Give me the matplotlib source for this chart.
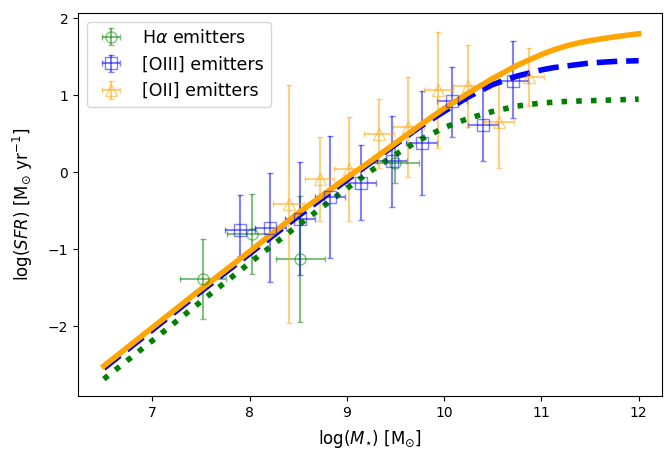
import matplotlib
matplotlib.use("Agg")
import matplotlib.pyplot as plt

# H-alpha emitters
ha_mass = [7.52, 8.02, 8.52, 9.49]
ha_sfr = [-1.39, -0.80, -1.13, 0.12]
ha_mass_err = [0.24, 0.25, 0.25, 0.25]
ha_sfr_err = [0.52, 0.52, 0.82, 0.26]

# [OIII] emitters
oiii_mass = [7.90, 8.21, 8.52, 8.83, 9.14, 9.46, 9.77, 10.08, 10.40, 10.71]
oiii_sfr = [-0.75, -0.72, -0.61, -0.32, -0.14, 0.14, 0.38, 0.92, 0.62, 1.19]
oiii_mass_err = [0.155, 0.16, 0.155, 0.155, 0.155, 0.155, 0.16, 0.155, 0.155, 0.155]
oiii_sfr_err_lo = [0.34, 0.71, 0.73, 0.79, 0.48, 0.59, 0.67, 0.46, 0.48, 0.49]
oiii_sfr_err_hi = [0.45, 0.71, 0.74, 0.79, 0.50, 0.59, 0.68, 0.45, 0.49, 0.51]

# [OII] emitters
oii_mass = [8.40, 8.72, 9.02, 9.33, 9.63, 9.94, 10.25, 10.56, 10.87]
oii_sfr = [-0.41, -0.09, 0.04, 0.50, 0.59, 1.07, 1.12, 0.65, 1.24]
oii_mass_err = [0.155, 0.15, 0.155, 0.155, 0.16, 0.15, 0.155, 0.155, 0.155]
oii_sfr_err = [1.55, 0.55, 0.68, 0.45, 0.65, 0.75, 0.53, 0.60, 0.38]

# fitted relations
fit_mass = [6.5, 7.0, 7.5, 8.0, 8.5, 9.0, 9.25, 9.5, 9.75, 10.0, 10.25,
            10.5, 10.75, 11.0, 11.125, 11.25, 11.375, 11.5, 11.75, 12.0]
fit_ha = [-2.69, -2.19, -1.68, -1.18, -0.69, -0.21, 0.02, 0.23, 0.42, 0.58, 0.70,
          0.79, 0.86, 0.90, 0.91, 0.92, 0.925, 0.93, 0.94, 0.95]
fit_oiii = [-2.55, -2.05, -1.55, -1.06, -0.57, -0.10, 0.13, 0.36, 0.59, 0.79, 0.98,
            1.14, 1.25, 1.33, 1.36, 1.38, 1.40, 1.42, 1.44, 1.45]
fit_oii = [-2.52, -2.02, -1.52, -1.03, -0.53, -0.07, 0.15, 0.38, 0.61, 0.83, 1.03,
           1.22, 1.39, 1.53, 1.59, 1.64, 1.68, 1.71, 1.76, 1.80]


def plot_emitters(ax, x, y, xerr, yerr, marker, color, label):
    ax.errorbar(x, y, xerr=xerr, yerr=yerr, fmt=marker, color=color,
                mfc='none', ms=8, capsize=2.5, alpha=0.5, label=label)


def main():
    fig = plt.figure(figsize=(6.65, 4.53), dpi=100)
    ax = fig.add_axes([0.1173, 0.1258, 0.8782, 0.8455])

    plot_emitters(ax, ha_mass, ha_sfr, ha_mass_err, ha_sfr_err,
                  'o', 'green', r'H$\alpha$ emitters')
    plot_emitters(ax, oiii_mass, oiii_sfr, oiii_mass_err,
                  [oiii_sfr_err_lo, oiii_sfr_err_hi],
                  's', 'blue', '[OIII] emitters')
    plot_emitters(ax, oii_mass, oii_sfr, oii_mass_err, oii_sfr_err,
                  '^', 'orange', '[OII] emitters')

    # blue first so the orange line sits on top where they overlap
    ax.plot(fit_mass, fit_oiii, color='blue', lw=4, ls='--')
    ax.plot(fit_mass, fit_oii, color='orange', lw=4, ls='-')
    ax.plot(fit_mass, fit_ha, color='green', lw=4, ls=':')

    ax.set_xlim(6.235, 12.24)
    ax.set_ylim(-2.91, 2.07)
    ax.set_xlabel(r'log($M_{\star}$) [M$_{\odot}$]', fontsize=12, labelpad=6)
    ax.set_ylabel(r'log($SFR$) [M$_{\odot}$ yr$^{-1}$]', fontsize=12, labelpad=9)
    ax.legend(loc='upper left', fontsize=12.5)

    fig.savefig('out.png', dpi=100)


if __name__ == "__main__":
    main()
